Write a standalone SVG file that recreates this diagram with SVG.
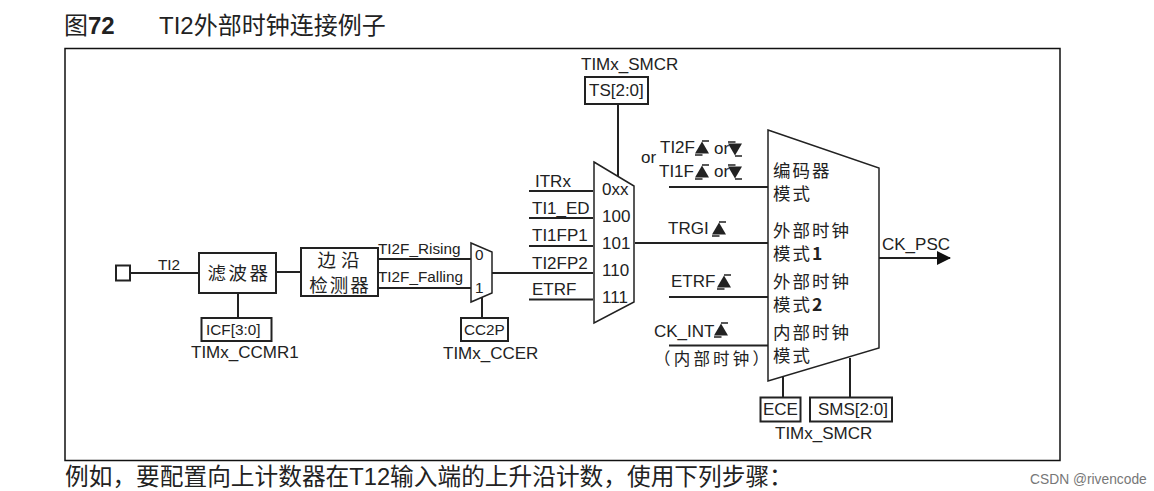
<svg xmlns="http://www.w3.org/2000/svg" xmlns:xlink="http://www.w3.org/1999/xlink" width="1154" height="491" viewBox="0 0 1154 491">
<style>
text{font-family:"Liberation Sans","Noto Sans CJK SC",sans-serif;font-size:17px;fill:#222}
.cjk{font-family:"Noto Sans CJK SC",sans-serif}
.s{font-size:15.300px}
.m{font-size:17.500px;letter-spacing:2px}
.e{font-size:18.500px}
.b{fill:#fff;stroke:#222;stroke-width:2}
.o{fill:#fff;stroke:#222;stroke-width:1.500}
.l{fill:none;stroke:#222;stroke-width:2}
.t{font-size:24px}
.k{font-weight:700}
</style>
<defs>
<g id="up"><path d="M-7 7H0.500M0 -7H7" fill="none" stroke="#222" stroke-width="1.300"/><path d="M-7 5.500L0 -6.500L7 5.500Z" fill="#222"/></g>
<g id="down"><path d="M-7 -7H0.500M0 7H7" fill="none" stroke="#222" stroke-width="1.300"/><path d="M-7 -5.500L0 6.500L7 -5.500Z" fill="#222"/></g>
<marker id="arr" markerUnits="userSpaceOnUse" markerWidth="14" markerHeight="14" refX="13" refY="7" orient="auto"><path d="M0 0L14 7L0 14Z" fill="#111"/></marker>
</defs>
<rect width="1154" height="491" fill="#fff"/>
<g id="title"><text class="t" x="64" y="34">图<tspan class="k">72</tspan></text><text class="t" x="159" y="34">TI2外部时钟连接例子</text></g>
<rect id="frame" x="65" y="48.500" width="995" height="412" fill="none" stroke="#111" stroke-width="1.500"/>
<g id="connectors">
<path class="l" d="M130 273H199M276 272H301M238 293V318M378 259H471M378 288H471M492 273H593M482 296V318M618 104V176"/>
<path class="l" d="M529 191H593M529 218H593M529 246H593M529 299.500H593M635 243H768M669 187H768M669 297H768M669 345.500H768M783 377V397M850 358V397"/>
<path class="l" d="M879 258H950" marker-end="url(#arr)"/>
</g>
<g id="ti2-pin"><rect class="b" x="116" y="265.500" width="14" height="15"/><text class="s" x="158" y="270">TI2</text></g>
<g id="filter"><rect class="b" x="199" y="253" width="77" height="40"/><text class="cjk e" x="239" y="280" text-anchor="middle" letter-spacing="2.500">滤波器</text></g>
<g id="edge"><rect class="b" x="301" y="248" width="77" height="48"/><text class="cjk e" x="341" y="267" text-anchor="middle" letter-spacing="5">边沿</text><text class="cjk e" x="340" y="292" text-anchor="middle" letter-spacing="2">检测器</text></g>
<g id="icf"><rect class="b" x="201.500" y="318" width="70" height="23"/><text class="s" x="206" y="335">ICF[3:0]</text><text x="191" y="358">TIMx_CCMR1</text></g>
<g id="edge-labels"><text class="s" x="378" y="254">TI2F_Rising</text><text class="s" x="378" y="282">TI2F_Falling</text></g>
<g id="mux2"><path class="o" d="M471 243L492 252V293L471 302Z"/><text class="s" x="475" y="260">0</text><text class="s" x="475" y="293">1</text></g>
<g id="cc2p"><rect class="b" x="461" y="318" width="47" height="23"/><text class="s" x="464" y="335">CC2P</text><text x="443" y="359">TIMx_CCER</text></g>
<g id="ts"><text x="581" y="70">TIMx_SMCR</text><rect class="b" x="585" y="77" width="63" height="27"/><text x="589" y="96">TS[2:0]</text></g>
<g id="mux5"><path class="o" d="M594 162L634 186V302L594 323Z"/>
<g><text x="602" y="195">0xx</text><text x="602" y="222">100</text><text x="602" y="249">101</text><text x="602" y="276">110</text><text x="602" y="303">111</text></g></g>
<g id="inputs"><text x="535" y="187">ITRx</text><text x="532" y="214">TI1_ED</text><text x="532" y="241">TI1FP1</text><text x="532" y="269">TI2FP2</text><text x="532" y="295">ETRF</text></g>
<g id="mode"><path class="o" d="M768 130L879 168V348L768 381Z"/>
<text class="cjk m" x="773" y="177">编码器</text><text class="cjk m" x="773" y="200">模式</text>
<text class="cjk m" x="773" y="237">外部时钟</text><text class="cjk m" x="773" y="260">模式<tspan class="k">1</tspan></text>
<text class="cjk m" x="773" y="288">外部时钟</text><text class="cjk m" x="773" y="311">模式<tspan class="k">2</tspan></text>
<text class="cjk m" x="773" y="339">内部时钟</text><text class="cjk m" x="773" y="362">模式</text></g>
<g id="triggers">
<text x="641" y="163">or</text><text x="660" y="153">TI2F</text><use xlink:href="#up" href="#up" x="702" y="148"/><text x="714" y="154">or</text><use xlink:href="#down" href="#down" x="735" y="149"/>
<text x="659" y="177">TI1F</text><use xlink:href="#up" href="#up" x="702" y="172"/><text x="714" y="177">or</text><use xlink:href="#down" href="#down" x="735" y="172"/>
<text x="668" y="234">TRGI</text><use xlink:href="#up" href="#up" x="719" y="229"/>
<text x="671" y="287">ETRF</text><use xlink:href="#up" href="#up" x="724" y="282"/>
<text x="654" y="337">CK_INT</text><use xlink:href="#up" href="#up" x="721" y="330"/>
<text class="cjk" x="654" y="365" style="font-size:16.500px;letter-spacing:3.200px">（内部时钟）</text>
</g>
<g id="output"><text x="882" y="250">CK_PSC</text></g>
<g id="ece"><rect class="b" x="760.500" y="397.500" width="40" height="24"/><text x="763" y="415">ECE</text></g>
<g id="sms"><rect class="b" x="810" y="397.500" width="82" height="24"/><text x="818" y="415">SMS[2:0]</text><text x="775" y="439">TIMx_SMCR</text></g>
<g id="caption"><text style="font-size:23.700px" x="65" y="485">例如，要配置向上计数器在T12输入端的上升沿计数，使用下列步骤：</text></g>
<text id="watermark" x="1030" y="484" style="font-size:13.800px;fill:#777">CSDN @rivencode</text>
</svg>
